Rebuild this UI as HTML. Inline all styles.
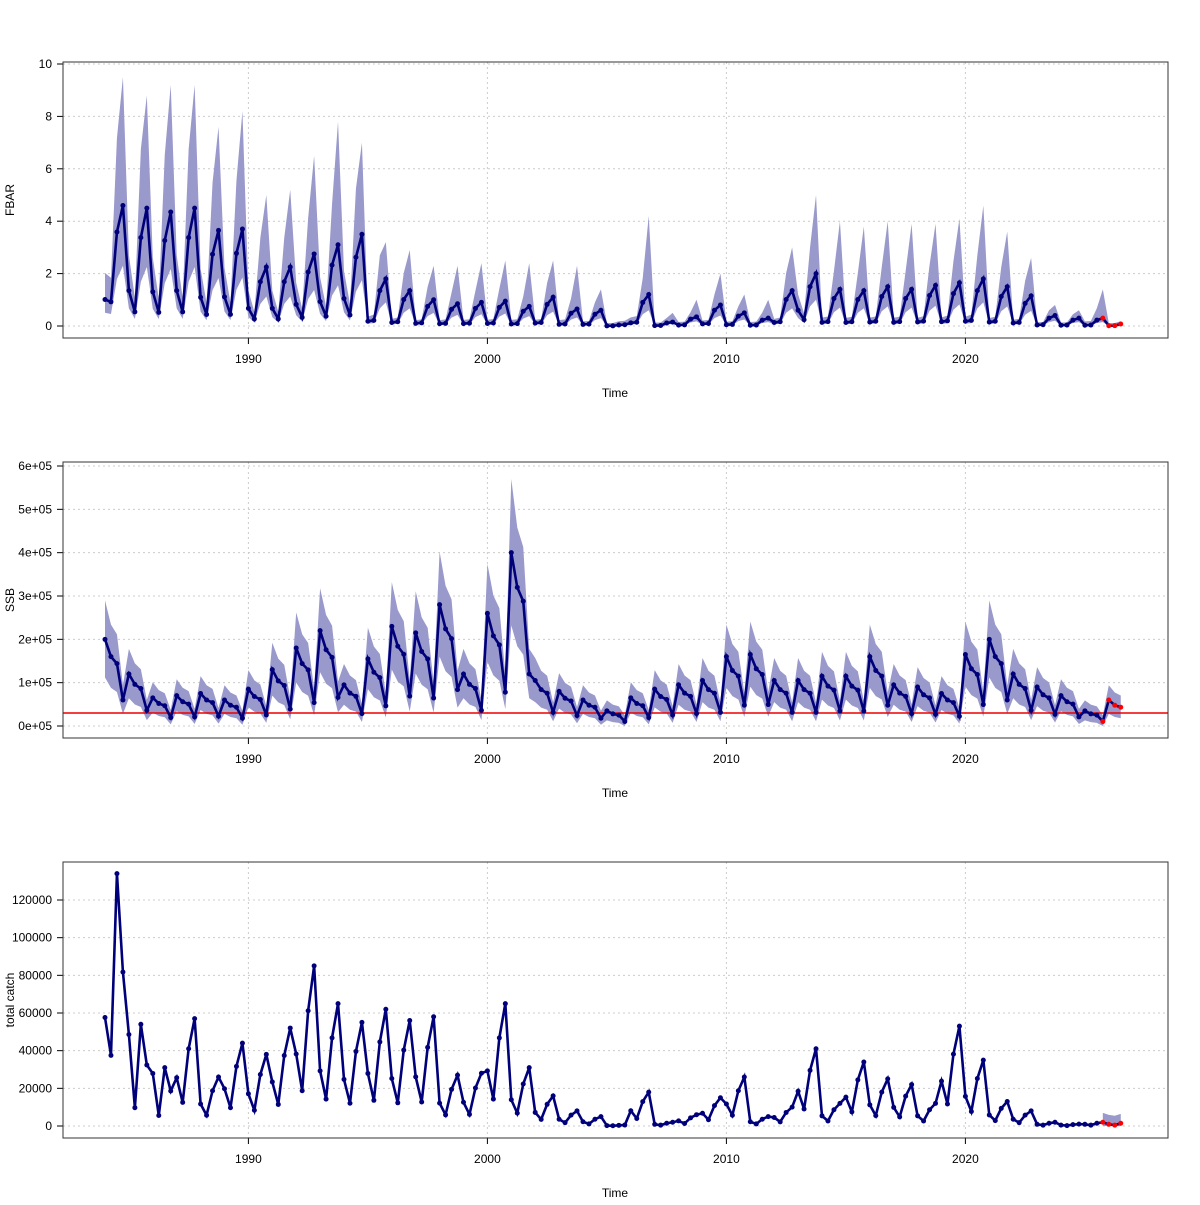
<!DOCTYPE html>
<html><head><meta charset="utf-8"><style>
body{margin:0;background:#fff;font-family:"Liberation Sans",sans-serif;}
svg text{font-family:"Liberation Sans",sans-serif;font-size:12px;fill:#000}
</style></head><body>
<svg id="s" width="1200" height="1200" xmlns="http://www.w3.org/2000/svg"></svg>
<script>
const S=document.getElementById('s');let h='';
const X=t=>105+(t-1984)*23.9;
const years=[];for(let y=1984;y<=2026;y++)years.push(y);
const fp=[4.6,4.5,4.35,4.5,3.65,3.7,2.25,2.25,2.75,3.1,3.5,1.8,1.35,1.0,0.85,0.9,0.95,0.75,1.1,0.65,0.6,0.05,1.2,0.15,0.35,0.8,0.5,0.3,1.35,2.0,1.4,1.35,1.5,1.4,1.55,1.65,1.8,1.5,1.15,0.4,0.3,0.3,0.1];
const fu=[9.5,8.8,9.2,9.2,7.6,8.2,5.0,5.2,6.5,7.8,7.0,3.2,2.9,2.3,2.3,2.4,2.5,2.4,2.5,2.3,1.4,0.2,4.2,0.5,1.0,2.0,1.2,1.0,3.0,5.0,4.0,3.8,4.0,3.9,3.9,4.1,4.6,3.6,2.6,0.8,0.6,1.4,0.2];
const sp=[200,120,65,70,75,60,85,130,180,220,95,155,230,215,280,120,260,400,105,80,60,35,65,85,95,105,160,165,105,105,115,115,160,95,90,75,165,200,120,90,70,35,60];
const cp=[134,54,31,57,26,44,38,52,85,65,55,62,56,58,27,28,65,31,16,8,5,0.5,18,2,6,15,26,5,10,41,12,34,25,22,12,53,35,13,8,2,1,2,2];
function series(kind){const pts=[];years.forEach((y,i)=>{const nq=y==2026?3:4;for(let q=0;q<nq;q++){const t=y+q*0.25;let v,u,l;
if(kind==0){const sh=i==0?[0.22,0.2,0.78,1]:[0.3,0.12,0.75,1];v=fp[i]*sh[q];if(fp[i]<2&&q==0)v=fp[i]*0.1;const r=fu[i]/fp[i];u=q==3?fu[i]:Math.max(v*2,v*r*0.55+0.1);l=v*0.5;}
else if(kind==1){const sh=[1,0.8,0.72,0.3];v=sp[i]*sh[q]*1000;u=v*1.4+10000;l=Math.max(0,v*0.6-8000);}
else{const sh=i==0?[0.43,0.28,1,0.61]:(y<1987?[0.9,0.18,1,0.6]:[0.45,0.22,0.72,1]);v=cp[i]*sh[q]*1000;u=v;l=v;}
pts.push([t,v,u,l]);}});return pts;}
function panel(top,ymax,ticks,ylab,kind,tickfmt,toff){
const x0=63,x1=1168,y0=top,y1=top+276,by=y1-12,ty=y0+toff;const Y=v=>by-(v/ymax)*(by-ty);
ticks.forEach(t=>{h+=`<line x1="${x0}" x2="${x1}" y1="${Y(t)}" y2="${Y(t)}" stroke="#ccc" stroke-dasharray="2,3"/>`;
h+=`<line x1="${x0-6}" x2="${x0}" y1="${Y(t)}" y2="${Y(t)}" stroke="#000"/><text x="${x0-11}" y="${Y(t)+4}" text-anchor="end">${tickfmt(t)}</text>`;});
[1990,2000,2010,2020].forEach(t=>{h+=`<line x1="${X(t)}" x2="${X(t)}" y1="${y0}" y2="${y1}" stroke="#ccc" stroke-dasharray="2,3"/><line x1="${X(t)}" x2="${X(t)}" y1="${y1}" y2="${y1+6}" stroke="#000"/><text x="${X(t)}" y="${y1+25}" text-anchor="middle">${t}</text>`;});
const p=series(kind);
let band=p;if(kind==2){band=p.slice(-4);band=band.map(d=>[d[0],d[1],d[1]+5000,Math.max(0,d[1]-2000)]);}
let d='M'+band.map(a=>X(a[0])+','+Y(a[2])).join('L')+'L'+band.slice().reverse().map(a=>X(a[0])+','+Y(a[3])).join('L')+'Z';
h+=`<path d="${d}" fill="#9999cc"/>`;
if(kind==1)h+=`<line x1="${x0}" x2="${x1}" y1="${Y(30000)}" y2="${Y(30000)}" stroke="#e00" stroke-width="1.5"/>`;
h+=`<polyline fill="none" stroke="#00007a" stroke-width="2.6" points="${p.map(a=>X(a[0])+','+Y(a[1])).join(' ')}"/>`;
p.forEach((a,i)=>{const red=i>=p.length-4;h+=`<circle cx="${X(a[0])}" cy="${Y(a[1])}" r="2.5" fill="${red?'#f00':'#00007a'}"/>`;});
h+=`<rect x="${x0}" y="${y0}" width="${x1-x0}" height="${y1-y0}" fill="none" stroke="#333"/>`;
h+=`<text x="615" y="${y1+59}" text-anchor="middle">Time</text>`;
h+=`<text transform="translate(14,${(y0+y1)/2}) rotate(-90)" text-anchor="middle">${ylab}</text>`;}
panel(62,10,[0,2,4,6,8,10],'FBAR',0,t=>t,2);
panel(462,600000,[0,1e5,2e5,3e5,4e5,5e5,6e5],'SSB',1,t=>(t/1e5)+'e+05',4);
panel(862,120000,[0,20000,40000,60000,80000,100000,120000],'total catch',2,t=>t,38);
S.innerHTML=h;
</script>
</body></html>
